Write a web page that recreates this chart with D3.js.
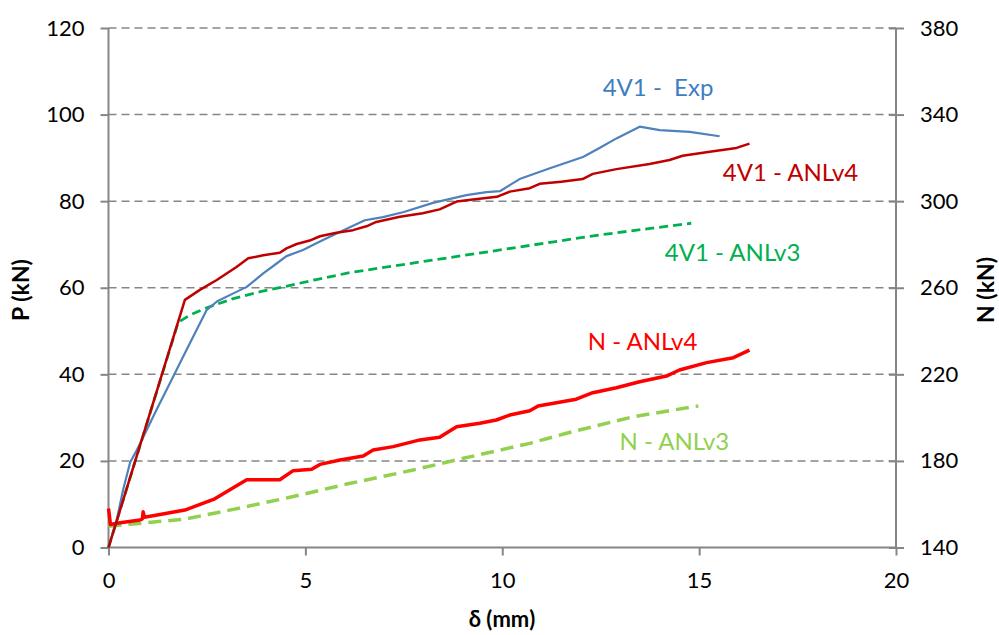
<!DOCTYPE html>
<html>
<head>
<meta charset="utf-8">
<script src="https://cdn.jsdelivr.net/npm/d3@7"></script>
<style>
    body { margin: 0; background: #fff; }
    text { font-family: Lato, "Open Sans", sans-serif; }
</style>
</head>
<body>
<script>
    "use strict";

    // δ (mm), P (kN)
    var expData = [[0,0],[0.21,6.4],[0.37,13.3],[0.55,19.7],[0.72,22.5],[0.93,26.4],[1.22,31.8],[1.6,38.7],
        [1.98,45.6],[2.49,54.8],[2.75,56.8],[3.17,58.7],[3.51,60.2],[3.93,63.3],[4.27,65.6],[4.52,67.3],
        [4.94,68.7],[5.28,70.3],[5.62,71.8],[6.13,74.0],[6.51,75.6],[6.97,76.3],[7.5,77.5],[8.24,79.6],
        [9.09,81.4],[9.6,82.1],[9.94,82.3],[10.19,83.7],[10.44,85.1],[11.21,87.6],[12.05,90.2],[12.47,92.3],
        [12.9,94.5],[13.49,97.2],[14.0,96.4],[14.76,96.0],[15.52,95.0]];

    var anlv4Data = [[0,0],[1.31,38.6],[1.94,57.2],[2.32,59.5],[2.75,61.8],[3.25,64.8],[3.55,66.8],[3.93,67.5],
        [4.35,68.1],[4.52,69.1],[4.78,70.1],[5.11,70.9],[5.37,71.9],[5.79,72.7],[6.21,73.3],[6.55,74.2],
        [6.8,75.2],[7.4,76.4],[7.98,77.2],[8.41,78.1],[8.84,79.9],[9.26,80.4],[9.86,81.0],[10.19,82.2],
        [10.7,83.0],[10.95,84.0],[11.5,84.5],[12.04,85.1],[12.3,86.3],[12.9,87.4],[13.74,88.6],[14.25,89.5],
        [14.58,90.5],[15.27,91.4],[15.95,92.3],[16.28,93.3]];

    var anlv3Data = [[0,0],[1.77,52],[2.07,53.7],[2.53,55.5],[3.17,57.5],[3.86,59.1],[4.44,60.2],[5.28,61.9],
        [6.13,63.5],[12.47,72.2],[14.8,74.9]];

    // δ (mm), N (kN) on the right axis
    var nAnlv4Data = [[0,158],[0.05,150.6],[0.21,151.2],[0.8,152.7],[0.86,153.2],[0.88,156.5],[0.91,154],
        [1.38,155.5],[1.94,157.3],[2.7,162.5],[3.51,171.3],[4.35,171.3],[4.69,175.5],[5.16,176.1],[5.37,178.4],
        [5.88,180.4],[6.47,182.3],[6.72,185],[7.23,186.6],[7.91,189.7],[8.41,190.9],[8.84,195.8],[9.43,197.4],
        [9.85,198.9],[10.19,201.2],[10.7,203.2],[10.91,205.4],[11.88,208.5],[12.3,211.5],[12.9,213.8],
        [13.49,216.6],[14.17,219.2],[14.5,222],[15.19,225.4],[15.87,227.7],[16.28,231.2]];

    var nAnlv3Data = [[0,149.8],[0.63,150.9],[1.9,153],[3.17,157.6],[4.61,163.2],[6.05,169.3],[7.74,175.8],
        [9.01,181.2],[10.7,188.1],[11.63,192.8],[13.32,200.4],[14.98,205.4]];

    var xTicks = [0, 5, 10, 15, 20],
        pTicks = [0, 20, 40, 60, 80, 100, 120],
        nTicks = [140, 180, 220, 260, 300, 340, 380];

    var width = 999,
        height = 635,
        plotLeft = 108.5,
        plotRight = 896,
        plotTop = 28,
        plotBottom = 547.5;

    var xScale = d3.scaleLinear().domain([0, 20]).range([plotLeft, plotRight]);
    var pScale = d3.scaleLinear().domain([0, 120]).range([plotBottom, plotTop]);
    var nScale = d3.scaleLinear().domain([140, 380]).range([plotBottom, plotTop]);

    var svg = d3.select("body").append("svg")
        .attr("width", width)
        .attr("height", height);

    var axisColor = "#868686";

    // dashed gridlines
    svg.append("g").selectAll("line")
        .data(pTicks.filter(function(d) { return d > 0; }))
        .enter().append("line")
            .attr("x1", plotLeft).attr("x2", plotRight)
            .attr("y1", function(d) { return pScale(d); })
            .attr("y2", function(d) { return pScale(d); })
            .style("stroke", axisColor)
            .style("stroke-width", 1.5)
            .style("stroke-dasharray", "8,5");

    var leftAxis = svg.append("g")
        .attr("transform", "translate(" + plotLeft + ",0)")
        .call(d3.axisLeft(pScale).tickValues(pTicks).tickSize(8).tickPadding(16));

    var rightAxis = svg.append("g")
        .attr("transform", "translate(" + plotRight + ",0)")
        .call(d3.axisRight(nScale).tickValues(nTicks).tickSize(8).tickPadding(16));
    rightAxis.selectAll(".tick line").attr("x1", -7);

    var bottomAxis = svg.append("g")
        .attr("transform", "translate(0," + plotBottom + ")")
        .call(d3.axisBottom(xScale).tickValues(xTicks).tickSize(8).tickPadding(17));

    [leftAxis, rightAxis, bottomAxis].forEach(function(ax) {
        ax.select(".domain").style("stroke", axisColor).style("stroke-width", 2);
        ax.selectAll(".tick line").style("stroke", axisColor).style("stroke-width", 2);
        ax.selectAll(".tick text")
            .style("font-family", "Lato, sans-serif")
            .style("font-size", "22px")
            .style("fill", "#000");
    });
    bottomAxis.select(".domain").attr("d", "M" + plotLeft + ",0H" + plotRight);
    leftAxis.select(".domain").attr("d", "M0," + plotBottom + "V" + plotTop);
    rightAxis.select(".domain").attr("d", "M0," + plotBottom + "V" + plotTop);

    function lineFor(scaleY) {
        return d3.line()
            .x(function(d) { return xScale(d[0]); })
            .y(function(d) { return scaleY(d[1]); });
    }

    var series = [
        { data: nAnlv3Data, y: nScale, color: "#92D050", w: 3.5, dash: "13,7" },
        { data: nAnlv4Data, y: nScale, color: "#FF0000", w: 3.5, dash: null },
        { data: anlv3Data, y: pScale, color: "#00B050", w: 2.8, dash: "9,5" },
        { data: expData, y: pScale, color: "#4F81BD", w: 2.2, dash: null },
        { data: anlv4Data, y: pScale, color: "#C00000", w: 2.5, dash: null }
    ];

    svg.append("g").selectAll("path")
        .data(series)
        .enter().append("path")
            .attr("d", function(s) { return lineFor(s.y)(s.data); })
            .style("fill", "none")
            .style("stroke", function(s) { return s.color; })
            .style("stroke-width", function(s) { return s.w; })
            .style("stroke-linejoin", "round")
            .style("stroke-dasharray", function(s) { return s.dash; });

    // series labels
    var labels = [
        { text: "4V1 -  Exp", x: 12.55, p: 104.2, color: "#3F7DC0" },
        { text: "4V1 - ANLv4", x: 15.6, p: 84.6, color: "#C00000" },
        { text: "4V1 - ANLv3", x: 14.13, p: 66.2, color: "#00B050" },
        { text: "N - ANLv4", x: 12.17, p: 45.6, color: "#FF0000" },
        { text: "N - ANLv3", x: 12.98, p: 22.5, color: "#92D050" }
    ];

    svg.append("g").selectAll("text")
        .data(labels)
        .enter().append("text")
            .attr("x", function(d) { return xScale(d.x); })
            .attr("y", function(d) { return pScale(d.p); })
            .style("white-space", "pre")
            .style("font-size", "24px")
            .style("fill", function(d) { return d.color; })
            .text(function(d) { return d.text; });

    // axis titles
    svg.append("text")
        .attr("transform", "translate(29,290) rotate(-90)")
        .attr("text-anchor", "middle")
        .style("font-size", "23px")
        .style("font-weight", "bold")
        .text("P (kN)");

    svg.append("text")
        .attr("transform", "translate(994,290) rotate(-90)")
        .attr("text-anchor", "middle")
        .style("font-size", "23px")
        .style("font-weight", "bold")
        .text("N (kN)");

    svg.append("text")
        .attr("x", 502)
        .attr("y", 627)
        .attr("text-anchor", "middle")
        .style("font-size", "22px")
        .style("font-weight", "bold")
        .text("δ (mm)");
</script>
</body>
</html>
